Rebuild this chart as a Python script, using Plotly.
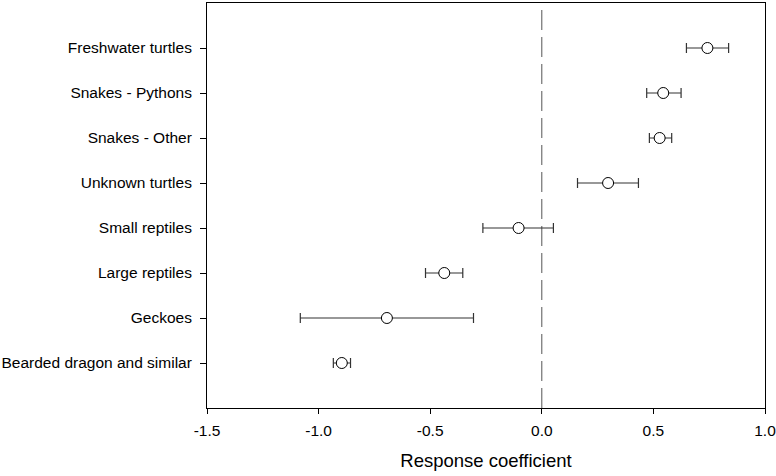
import plotly.graph_objects as go

categories = ["Bearded dragon and similar", "Geckoes", "Large reptiles", "Small reptiles",
              "Unknown turtles", "Snakes - Other", "Snakes - Pythons", "Freshwater turtles"]
estimate = [-0.896, -0.694, -0.437, -0.104, 0.297, 0.528, 0.544, 0.742]
lower = [-0.934, -1.082, -0.521, -0.264, 0.160, 0.482, 0.470, 0.648]
upper = [-0.857, -0.306, -0.354, 0.052, 0.433, 0.582, 0.624, 0.837]
x_ticks = [-1.5, -1.0, -0.5, 0.0, 0.5, 1.0]

ypos = list(range(1, len(categories) + 1))
err_plus = [u - e for u, e in zip(upper, estimate)]
err_minus = [e - l for e, l in zip(estimate, lower)]

fig = go.Figure()
fig.add_vline(x=0, line=dict(color="#555555", width=1, dash="20px,7px"), layer="below")
fig.add_trace(go.Scatter(
    x=estimate, y=ypos, mode="markers",
    marker=dict(symbol="circle", size=11, color="white", line=dict(color="black", width=1)),
    error_x=dict(type="data", array=err_plus, arrayminus=err_minus, symmetric=False,
                 color="#333333", thickness=1.2, width=5),
    showlegend=False,
))

fig.update_layout(
    width=776, height=476,
    margin=dict(l=207, r=11, t=3, b=68),
    paper_bgcolor="white", plot_bgcolor="white",
    font=dict(family="Liberation Sans, Arial, sans-serif", size=15.5, color="black"),
)
fig.update_xaxes(
    range=[-1.5, 1.0], tickvals=x_ticks, ticktext=[f"{v:.1f}" for v in x_ticks],
    ticks="outside", ticklen=5, tickwidth=1, tickcolor="black",
    showline=True, linecolor="black", linewidth=1, mirror=True,
    showgrid=False, zeroline=False, automargin=False, ticklabeloverflow="allow",
    ticklabelstandoff=3,
    title=dict(text="Response coefficient", font=dict(size=18.5), standoff=16),
)
fig.update_yaxes(
    range=[0, 9], tickvals=ypos, ticktext=categories,
    ticks="outside", ticklen=6, tickwidth=1, tickcolor="black",
    showline=True, linecolor="black", linewidth=1, mirror=True,
    showgrid=False, zeroline=False, ticklabelstandoff=5, automargin=False,
    ticklabeloverflow="allow",
)

fig.write_html("out.html", config={"displayModeBar": False},
               post_script="document.body.style.margin='0';")
